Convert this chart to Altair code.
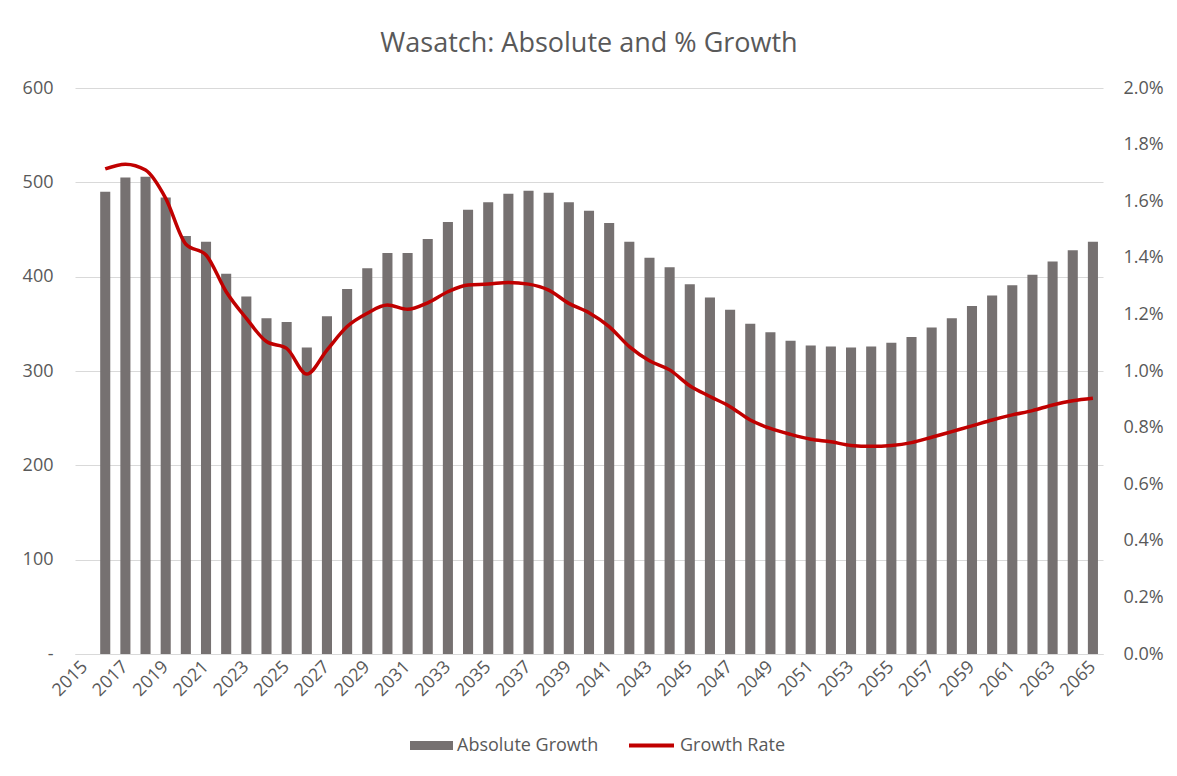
import altair as alt
import pandas as pd

years = list(range(2015, 2066))
absolute_growth = [None,
    490, 505, 506, 484, 443, 437, 403, 379, 356, 352,
    325, 358, 387, 409, 425, 425, 440, 458, 471, 479,
    488, 491, 489, 479, 470, 457, 437, 420, 410, 392,
    378, 365, 350, 341, 332, 327, 326, 325, 326, 330,
    336, 346, 356, 369, 380, 391, 402, 416, 428, 437]
growth_rate = [None,
    1.714, 1.731, 1.710, 1.610, 1.448, 1.410, 1.280, 1.186, 1.104, 1.080,
    0.989, 1.074, 1.157, 1.204, 1.233, 1.218, 1.241, 1.280, 1.304, 1.307,
    1.313, 1.307, 1.286, 1.239, 1.206, 1.157, 1.086, 1.036, 1.004, 0.948,
    0.910, 0.874, 0.827, 0.797, 0.776, 0.759, 0.750, 0.737, 0.734, 0.737,
    0.747, 0.766, 0.786, 0.806, 0.827, 0.845, 0.860, 0.880, 0.895, 0.904]
x_label_years = years[::2]
left_ticks = [0, 100, 200, 300, 400, 500, 600]
right_ticks = [0.0, 0.2, 0.4, 0.6, 0.8, 1.0, 1.2, 1.4, 1.6, 1.8, 2.0]

df = pd.DataFrame({"year": years, "absolute": absolute_growth, "rate": growth_rate})

FONT = "Open Sans"
TXT = "#595959"
GRID = "#D9D9D9"
BAR = "#767171"
RED = "#C00000"
NBSP = "\u00a0"

x_enc = alt.X(
    "year:O",
    scale=alt.Scale(domain=years, paddingInner=0.5, paddingOuter=0.25),
    axis=alt.Axis(
        values=x_label_years, labelAngle=-45, labelAlign="right", labelBaseline="middle",
        ticks=False, tickSize=0, domainColor=GRID, domainWidth=1, grid=False, title=None,
        labelPadding=10, labelFontSize=18, labelColor=TXT, labelFont=FONT, labelOverlap=False,
    ),
)

bars = alt.Chart(df).transform_calculate(series="'Absolute Growth'").mark_bar().encode(
    x=x_enc,
    y=alt.Y(
        "absolute:Q",
        scale=alt.Scale(domain=[0, 600], nice=False, zero=True),
        axis=alt.Axis(
            values=left_ticks, orient="left", title=None, domain=False, ticks=False, tickSize=0,
            labelPadding=22, labelFontSize=18, labelColor=TXT, labelFont=FONT,
            grid=True, gridColor=GRID, gridWidth=1,
            labelExpr="datum.value == 0 ? '-" + NBSP * 3 + "' : format(datum.value, ',')",
        ),
    ),
    fill=alt.Fill(
        "series:N",
        scale=alt.Scale(domain=["Absolute Growth"], range=[BAR]),
        legend=alt.Legend(
            title=None, orient="none", legendX=335, legendY=636,
            symbolType="M-1,-0.21H1V0.21H-1Z", symbolSize=1849,
            symbolStrokeWidth=0, labelFontSize=18, labelFont=FONT, labelColor=TXT, labelOffset=4,
        ),
    ),
)

line = alt.Chart(df).transform_calculate(series2="'Growth Rate'").mark_line(
    strokeWidth=3.5, interpolate="monotone"
).encode(
    x=x_enc,
    y=alt.Y(
        "rate:Q",
        scale=alt.Scale(domain=[0, 2], nice=False, zero=True),
        axis=alt.Axis(
            values=right_ticks, orient="right", title=None, domain=False, ticks=False, tickSize=0,
            labelPadding=20, labelFontSize=18, labelColor=TXT, labelFont=FONT, grid=False,
            labelExpr="format(datum.value, '.1f') + '%'",
        ),
    ),
    stroke=alt.Stroke(
        "series2:N",
        scale=alt.Scale(domain=["Growth Rate"], range=[RED]),
        legend=alt.Legend(
            title=None, orient="none", legendX=552, legendY=633,
            symbolType="stroke", symbolSize=2025,
            symbolStrokeWidth=4, labelFontSize=18, labelFont=FONT, labelColor=TXT, labelOffset=4,
        ),
    ),
)

chart = alt.layer(bars, line).resolve_scale(y="independent").properties(
    width=1028,
    height=566,
    autosize=alt.AutoSizeParams(type="none"),
    padding={"left": 67, "top": 80, "right": 66, "bottom": 114},
    title=alt.TitleParams(
        "Wasatch: Absolute and % Growth", fontSize=27, font=FONT, color=TXT,
        fontWeight="normal", anchor="middle", baseline="bottom", offset=16, dy=22,
    ),
).configure_view(stroke=None)

chart.save("out.html", embed_options={"renderer": "svg", "actions": False})
